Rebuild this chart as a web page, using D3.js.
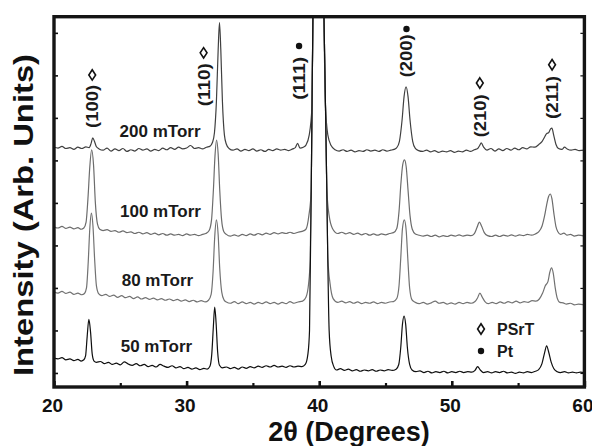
<!DOCTYPE html>
<html lang="en">
  <head>
    <meta charset="utf-8" />
    <title>XRD patterns – PSrT films</title>
    <script src="https://d3js.org/d3.v7.min.js"></script>
    <style>
      body {
        margin: 0;
        background: #fff;
      }
      svg {
        display: block;
        font-family: "Liberation Sans", Arial, Helvetica, sans-serif;
        font-weight: bold;
      }
      .trace {
        fill: none;
        stroke-width: 1.2px;
        stroke-linejoin: round;
      }
      .tick line {
        stroke: #111;
      }
      .tick text {
        fill: #111;
      }
    </style>
  </head>
  <body>
    <svg id="chart" width="592" height="446"></svg>
    <script>
      // 2theta (deg), intensity (arb. units)
      const trace200 = [
        [20.0,5.31],[20.3,5.29],[20.6,5.33],[20.9,5.28],[21.2,5.30],[21.5,5.26],[21.8,5.31],[22.1,5.28],[22.4,5.32],[22.65,5.30],
        [22.8,5.40],[22.92,5.53],[23.05,5.45],[23.2,5.32],[23.4,5.27],[23.7,5.24],[24.0,5.29],[24.3,5.22],[24.6,5.27],[24.9,5.23],
        [25.2,5.28],[25.5,5.21],[25.8,5.25],[26.1,5.22],[26.4,5.28],[26.7,5.24],[27.0,5.27],[27.3,5.22],[27.6,5.26],[27.9,5.23],
        [28.2,5.29],[28.5,5.25],[28.8,5.30],[29.1,5.26],[29.4,5.31],[29.7,5.27],[30.0,5.29],[30.3,5.35],[30.6,5.28],[30.9,5.30],
        [31.2,5.27],[31.5,5.31],[31.75,5.33],[31.95,5.42],[32.1,5.65],[32.25,6.4],[32.38,7.6],[32.48,8.24],[32.58,7.6],[32.7,6.4],
        [32.85,5.6],[33.0,5.38],[33.2,5.28],[33.5,5.24],[33.8,5.27],[34.1,5.22],[34.4,5.26],[34.7,5.23],[35.0,5.27],[35.3,5.22],
        [35.6,5.25],[35.9,5.21],[36.2,5.26],[36.5,5.23],[36.8,5.27],[37.1,5.24],[37.4,5.26],[37.7,5.23],[38.0,5.27],[38.2,5.3],
        [38.37,5.4],[38.55,5.29],[38.8,5.31],[39.0,5.36],[39.25,5.6],[39.46,6.3],[39.56,9.5],[39.93,14],[40.3,9.5],[40.47,6.3],
        [40.65,5.6],[40.9,5.35],[41.2,5.25],[41.5,5.22],[41.8,5.25],[42.1,5.21],[42.4,5.24],
        [42.7,5.20],[43.0,5.23],[43.3,5.21],[43.6,5.25],[43.9,5.22],[44.2,5.24],[44.5,5.21],[44.8,5.25],[45.1,5.22],[45.4,5.24],
        [45.65,5.26],[45.85,5.3],[46.05,5.45],[46.25,5.95],[46.4,6.5],[46.55,6.73],[46.7,6.5],[46.85,5.95],[47.05,5.45],[47.25,5.28],
        [47.5,5.23],[47.8,5.21],[48.1,5.24],[48.4,5.2],[48.7,5.23],[49.0,5.19],[49.3,5.22],[49.6,5.2],[49.9,5.23],[50.2,5.19],
        [50.5,5.22],[50.8,5.2],[51.1,5.24],[51.4,5.21],[51.7,5.25],[51.95,5.28],[52.1,5.35],[52.22,5.41],[52.4,5.31],[52.65,5.24],
        [52.95,5.28],[53.25,5.22],[53.55,5.27],[53.85,5.23],[54.15,5.28],[54.45,5.24],[54.75,5.29],[55.05,5.25],[55.35,5.30],[55.65,5.27],
        [55.95,5.32],[56.25,5.31],[56.55,5.37],[56.8,5.44],[57.0,5.55],[57.15,5.63],[57.3,5.65],[57.45,5.74],[57.55,5.76],[57.68,5.6],
        [57.85,5.38],[58.05,5.28],[58.3,5.26],[58.5,5.31],[58.7,5.27],[59.0,5.24],[59.3,5.26],[59.6,5.23],[60.0,5.24]
      ];
      const trace100 = [
        [20.0,3.44],[20.3,3.41],[20.6,3.45],[20.9,3.4],[21.2,3.43],[21.5,3.39],[21.8,3.42],[22.05,3.38],[22.25,3.41],[22.42,3.55],
        [22.56,4.1],[22.7,4.85],[22.84,5.25],[22.98,4.9],[23.12,4.0],[23.28,3.5],[23.45,3.38],[23.7,3.35],[24.0,3.37],[24.3,3.33],
        [24.6,3.35],[24.9,3.31],[25.2,3.34],[25.5,3.3],[25.8,3.32],[26.1,3.28],[26.4,3.31],[26.7,3.27],[27.0,3.3],[27.3,3.26],
        [27.6,3.29],[27.9,3.25],[28.2,3.28],[28.5,3.24],[28.8,3.27],[29.1,3.24],[29.4,3.26],[29.7,3.23],[30.0,3.27],[30.3,3.24],
        [30.6,3.26],[30.9,3.23],[31.2,3.26],[31.45,3.28],[31.7,3.35],[31.88,3.6],[32.02,4.3],[32.14,5.1],[32.26,5.48],[32.38,5.15],
        [32.5,4.3],[32.64,3.6],[32.8,3.33],[33.0,3.26],[33.3,3.22],[33.6,3.25],[33.9,3.22],[34.2,3.26],[34.5,3.23],[34.8,3.27],
        [35.1,3.24],[35.4,3.28],[35.7,3.25],[36.0,3.29],[36.3,3.26],[36.6,3.3],[36.9,3.27],[37.2,3.3],[37.5,3.28],[37.8,3.31],
        [38.1,3.28],[38.4,3.31],[38.7,3.33],[39.0,3.38],[39.22,3.7],[39.4,4.3],[39.47,6.5],[39.56,9.5],[39.93,14],[40.3,9.5],
        [40.46,6.5],[40.58,4.3],[40.75,3.7],[41.0,3.4],[41.4,3.28],[41.7,3.31],[42.0,3.27],[42.3,3.3],[42.6,3.26],
        [42.9,3.29],[43.2,3.25],[43.5,3.28],[43.8,3.24],[44.1,3.27],[44.4,3.24],[44.7,3.27],[45.0,3.25],[45.3,3.28],[45.6,3.3],
        [45.85,3.4],[46.02,3.8],[46.16,4.45],[46.3,4.9],[46.43,5.01],[46.56,4.85],[46.7,4.3],[46.85,3.7],[47.02,3.38],[47.25,3.27],
        [47.55,3.24],[47.85,3.22],[48.15,3.24],[48.45,3.21],[48.75,3.24],[49.05,3.2],[49.35,3.23],[49.65,3.21],[49.95,3.24],[50.25,3.22],
        [50.55,3.25],[50.85,3.22],[51.15,3.24],[51.45,3.23],[51.7,3.28],[51.9,3.42],[52.08,3.55],[52.25,3.45],[52.45,3.3],[52.7,3.23],
        [53.0,3.21],[53.3,3.24],[53.6,3.21],[53.9,3.24],[54.2,3.22],[54.5,3.25],[54.8,3.22],[55.1,3.25],[55.4,3.23],[55.7,3.26],
        [56.0,3.24],[56.3,3.27],[56.55,3.32],[56.8,3.45],[57.0,3.7],[57.15,3.95],[57.3,4.15],[57.42,4.21],[57.55,4.1],[57.7,3.75],
        [57.85,3.45],[58.0,3.32],[58.2,3.26],[58.45,3.29],[58.7,3.24],[58.95,3.26],[59.25,3.22],[59.55,3.24],[60.0,3.22]
      ];
      const trace80 = [
        [20.0,1.91],[20.3,1.88],[20.6,1.92],[20.9,1.87],[21.2,1.9],[21.5,1.85],[21.8,1.88],[22.1,1.84],[22.3,1.87],[22.45,2.0],
        [22.58,2.6],[22.7,3.4],[22.82,3.76],[22.94,3.45],[23.06,2.7],[23.2,2.05],[23.38,1.86],[23.6,1.82],[23.9,1.85],[24.2,1.8],
        [24.5,1.83],[24.8,1.78],[25.1,1.82],[25.4,1.77],[25.7,1.8],[26.0,1.75],[26.3,1.79],[26.6,1.74],[26.9,1.77],[27.2,1.73],
        [27.5,1.76],[27.8,1.72],[28.1,1.75],[28.4,1.71],[28.7,1.74],[29.0,1.7],[29.3,1.73],[29.6,1.69],[29.9,1.72],[30.2,1.68],
        [30.5,1.71],[30.8,1.67],[31.1,1.7],[31.4,1.67],[31.65,1.71],[31.85,1.85],[32.0,2.4],[32.12,3.2],[32.25,3.6],[32.38,3.25],
        [32.5,2.45],[32.65,1.9],[32.82,1.72],[33.0,1.67],[33.3,1.64],[33.6,1.68],[33.9,1.63],[34.2,1.67],[34.5,1.63],[34.8,1.66],
        [35.1,1.62],[35.4,1.66],[35.7,1.63],[36.0,1.67],[36.3,1.63],[36.6,1.66],[36.9,1.62],[37.2,1.66],[37.5,1.63],[37.8,1.68],
        [38.1,1.64],[38.4,1.67],[38.75,1.69],[39.0,1.78],[39.2,2.1],[39.32,2.67],[39.42,5.0],[39.56,9.5],[39.93,14],[40.3,9.5],
        [40.54,5.0],[40.66,2.67],[40.82,2.1],[41.05,1.75],[41.4,1.66],[41.7,1.69],[42.0,1.65],[42.3,1.68],[42.6,1.64],
        [42.9,1.67],[43.2,1.63],[43.5,1.66],[43.8,1.64],[44.1,1.67],[44.4,1.63],[44.7,1.66],[45.0,1.64],[45.3,1.67],[45.6,1.68],
        [45.85,1.75],[46.02,2.05],[46.15,2.7],[46.28,3.4],[46.42,3.6],[46.56,3.35],[46.68,2.7],[46.82,2.0],[47.0,1.72],[47.25,1.66],
        [47.55,1.63],[47.85,1.66],[48.15,1.62],[48.45,1.65],[48.75,1.69],[49.05,1.64],[49.35,1.66],[49.65,1.62],[49.95,1.65],[50.25,1.62],
        [50.55,1.66],[50.85,1.63],[51.15,1.66],[51.45,1.64],[51.75,1.68],[51.95,1.77],[52.12,1.88],[52.3,1.78],[52.5,1.68],[52.75,1.63],
        [53.05,1.66],[53.35,1.63],[53.65,1.67],[53.95,1.64],[54.25,1.68],[54.55,1.65],[54.85,1.69],[55.15,1.65],[55.45,1.68],[55.75,1.66],
        [56.05,1.7],[56.35,1.69],[56.6,1.74],[56.85,1.88],[57.05,2.05],[57.25,2.15],[57.4,2.38],[57.52,2.47],[57.65,2.35],[57.8,2.0],
        [57.95,1.76],[58.15,1.66],[58.4,1.65],[58.65,1.62],[58.95,1.64],[59.25,1.6],[59.55,1.62],[60.0,1.6]
      ];
      const trace50 = [
        [20.0,0.35],[20.3,0.33],[20.6,0.36],[20.9,0.31],[21.2,0.33],[21.5,0.29],[21.8,0.32],[22.05,0.28],[22.25,0.31],[22.38,0.4],
        [22.5,0.85],[22.63,1.26],[22.76,0.95],[22.88,0.45],[23.02,0.28],[23.2,0.25],[23.5,0.27],[23.8,0.22],[24.1,0.25],[24.4,0.2],
        [24.7,0.23],[25.0,0.19],[25.3,0.26],[25.6,0.21],[25.9,0.18],[26.2,0.22],[26.5,0.17],[26.8,0.2],[27.1,0.15],[27.4,0.18],
        [27.7,0.14],[28.0,0.2],[28.3,0.16],[28.6,0.13],[28.9,0.17],[29.2,0.12],[29.5,0.15],[29.8,0.1],[30.1,0.13],[30.4,0.09],
        [30.7,0.12],[31.0,0.08],[31.3,0.11],[31.55,0.09],[31.75,0.15],[31.9,0.45],[32.02,1.1],[32.12,1.55],[32.22,1.2],[32.34,0.5],
        [32.48,0.18],[32.7,0.12],[33.0,0.14],[33.3,0.1],[33.6,0.13],[33.9,0.09],[34.2,0.14],[34.5,0.11],[34.8,0.15],[35.1,0.12],
        [35.4,0.16],[35.7,0.13],[36.0,0.17],[36.3,0.14],[36.6,0.18],[36.9,0.14],[37.2,0.16],[37.5,0.13],[37.8,0.17],[38.1,0.14],
        [38.4,0.16],[38.7,0.15],[38.95,0.2],[39.15,0.45],[39.27,1.0],[39.42,5.0],[39.56,9.5],[39.93,14],[40.3,9.5],[40.54,5.0],
        [40.75,1.0],[40.9,0.4],[41.1,0.15],[41.3,0.07],[41.6,0.1],[41.9,0.06],[42.2,0.09],[42.5,0.05],[42.8,0.08],
        [43.1,0.04],[43.4,0.07],[43.7,0.05],[44.0,0.08],[44.3,0.04],[44.6,0.07],[44.9,0.05],[45.2,0.08],[45.5,0.06],[45.8,0.09],
        [46.0,0.2],[46.15,0.6],[46.28,1.15],[46.4,1.34],[46.52,1.15],[46.65,0.6],[46.82,0.2],[47.0,0.07],[47.3,0.03],[47.6,0.05],
        [47.9,0.01],[48.2,0.04],[48.5,0.0],[48.8,0.03],[49.1,0.01],[49.4,0.04],[49.7,0.0],[50.0,0.03],[50.3,0.01],[50.6,0.04],
        [50.9,0.01],[51.2,0.03],[51.5,0.02],[51.75,0.06],[51.95,0.15],[52.15,0.07],[52.4,0.01],[52.7,0.03],[53.0,0.0],[53.3,0.03],
        [53.6,0.01],[53.9,0.04],[54.2,0.0],[54.5,0.02],[54.8,-0.01],[55.1,0.02],[55.4,0.0],[55.7,0.03],[56.0,0.01],[56.3,0.04],
        [56.55,0.08],[56.8,0.22],[57.0,0.48],[57.15,0.64],[57.3,0.5],[57.5,0.25],[57.7,0.1],[57.95,0.03],[58.2,0.01],[58.5,0.03],
        [58.8,0.0],[59.1,0.02],[59.4,0.0],[59.7,0.02],[60.0,0.01]
      ];

      const sampleNames = ["200 mTorr", "100 mTorr", "80 mTorr", "50 mTorr"];
      const sampleTraces = [trace200, trace100, trace80, trace50];
      const sampleColors = ["#404040", "#6c6c6c", "#727272", "#0f0f0f"];
      const sampleLabelAngle = [28.0, 28.03, 27.8, 27.73];
      const sampleLabelHeight = [5.56, 3.68, 2.04, 0.49];

      const peakLabels = ["(100)", "(110)", "(111)", "(200)", "(210)", "(211)"];
      const peakPhases = ["PSrT", "PSrT", "Pt", "Pt", "PSrT", "PSrT"];
      const peakLabelAngle = [22.92, 31.32, 38.52, 46.62, 52.15, 57.6];
      const peakLabelHeight = [6.27, 6.78, 6.93, 7.46, 6.05, 6.48];
      const peakMarkerHeight = [7.01, 7.53, 7.69, 8.09, 6.82, 7.25];

      const majorTicks = [20, 30, 40, 50, 60];
      const minorTicks = [25, 35, 45, 55];
      const yTicks = [0, 1, 2, 3, 4, 5, 6, 7, 8];

      const svg = d3.select("#chart");
      const plotLeft = 54, plotRight = 584.4, plotTop = 16.7, plotBottom = 387;

      const x = d3.scaleLinear().domain([20, 60]).range([plotLeft, plotRight]);
      const y = d3.scaleLinear().domain([-0.33, 8.38]).range([plotBottom, plotTop]);

      svg.append("rect").attr("width", 592).attr("height", 446).attr("fill", "#fff");

      svg.append("clipPath").attr("id", "plot")
        .append("rect")
        .attr("x", plotLeft).attr("y", plotTop)
        .attr("width", plotRight - plotLeft).attr("height", plotBottom - plotTop);

      const line = d3.line()
        .x((d) => x(d[0]))
        .y((d) => y(d[1]))
        .curve(d3.curveMonotoneX);

      svg.append("g")
        .attr("clip-path", "url(#plot)")
        .selectAll("path")
        .data(sampleTraces)
        .join("path")
        .attr("class", "trace")
        .attr("stroke", (d, i) => sampleColors[i])
        .attr("d", line);

      // axes: ticks point inward
      const xMajor = svg.append("g")
        .attr("transform", `translate(0,${plotBottom})`)
        .call(d3.axisBottom(x).tickValues(majorTicks).tickSize(-6).tickSizeOuter(0).tickPadding(12));
      xMajor.selectAll("line").attr("stroke-width", 2.6);
      xMajor.selectAll("text").attr("font-size", 19).attr("dx", -2);

      const xMinor = svg.append("g")
        .attr("transform", `translate(0,${plotBottom})`)
        .call(d3.axisBottom(x).tickValues(minorTicks).tickSize(-4).tickSizeOuter(0).tickFormat(""));
      xMinor.selectAll("line").attr("stroke-width", 2.2);

      const yLeft = svg.append("g")
        .attr("transform", `translate(${plotLeft},0)`)
        .call(d3.axisLeft(y).tickValues(yTicks).tickSize(-4).tickSizeOuter(0).tickFormat(""));
      const yRight = svg.append("g")
        .attr("transform", `translate(${plotRight},0)`)
        .call(d3.axisRight(y).tickValues(yTicks).tickSize(-4).tickSizeOuter(0).tickFormat(""));
      [xMajor, xMinor, yLeft, yRight].forEach((g) => g.select(".domain").remove());
      yLeft.selectAll("line").attr("stroke-width", 1.6);
      yRight.selectAll("line").attr("stroke-width", 1.2).attr("stroke", "#555");

      svg.append("rect")
        .attr("x", plotLeft).attr("y", plotTop)
        .attr("width", plotRight - plotLeft).attr("height", plotBottom - plotTop)
        .attr("fill", "none").attr("stroke", "#151515").attr("stroke-width", 3.4);

      // sample labels
      svg.append("g")
        .selectAll("text")
        .data(sampleNames)
        .join("text")
        .attr("x", (d, i) => x(sampleLabelAngle[i]))
        .attr("y", (d, i) => y(sampleLabelHeight[i]))
        .attr("text-anchor", "middle")
        .attr("font-size", 17)
        .attr("fill", "#1a1a1a")
        .text((d) => d);

      // reflection labels and phase markers
      const diamond = "M0,-5.2L3.4,0L0,5.2L-3.4,0Z";
      const marker = (sel, phase) => {
        if (phase === "Pt") {
          sel.append("circle").attr("r", 3.2).attr("fill", "#111");
        } else {
          sel.append("path").attr("d", diamond)
            .attr("fill", "#fff").attr("stroke", "#111").attr("stroke-width", 1.6);
        }
      };

      peakLabels.forEach((lab, i) => {
        svg.append("text")
          .attr("transform", `translate(${x(peakLabelAngle[i]) + 5.5},${y(peakLabelHeight[i])}) rotate(-90)`)
          .attr("text-anchor", "middle")
          .attr("font-size", 16)
          .attr("textLength", 43)
          .attr("lengthAdjust", "spacingAndGlyphs")
          .attr("fill", "#1a1a1a")
          .text(lab);
        const m = svg.append("g")
          .attr("transform", `translate(${x(peakLabelAngle[i]) - 0.5},${y(peakMarkerHeight[i])})`);
        marker(m, peakPhases[i]);
      });

      // legend
      const legend = svg.append("g").attr("transform", "translate(481,329)");
      ["PSrT", "Pt"].forEach((p, i) => {
        const row = legend.append("g").attr("transform", `translate(0,${i * 22})`);
        marker(row, p);
        row.append("text")
          .attr("x", 16).attr("y", 5.5)
          .attr("font-size", 16)
          .attr("fill", "#1a1a1a")
          .text(p);
      });

      // axis titles
      svg.append("text")
        .attr("x", 349).attr("y", 441)
        .attr("text-anchor", "middle")
        .attr("font-size", 27)
        .attr("fill", "#111")
        .text("2θ (Degrees)");

      svg.append("text")
        .attr("transform", "translate(33,215) rotate(-90)")
        .attr("text-anchor", "middle")
        .attr("font-size", 28)
        .attr("textLength", 322)
        .attr("lengthAdjust", "spacingAndGlyphs")
        .attr("fill", "#111")
        .text("Intensity (Arb. Units)");
    </script>
  </body>
</html>
